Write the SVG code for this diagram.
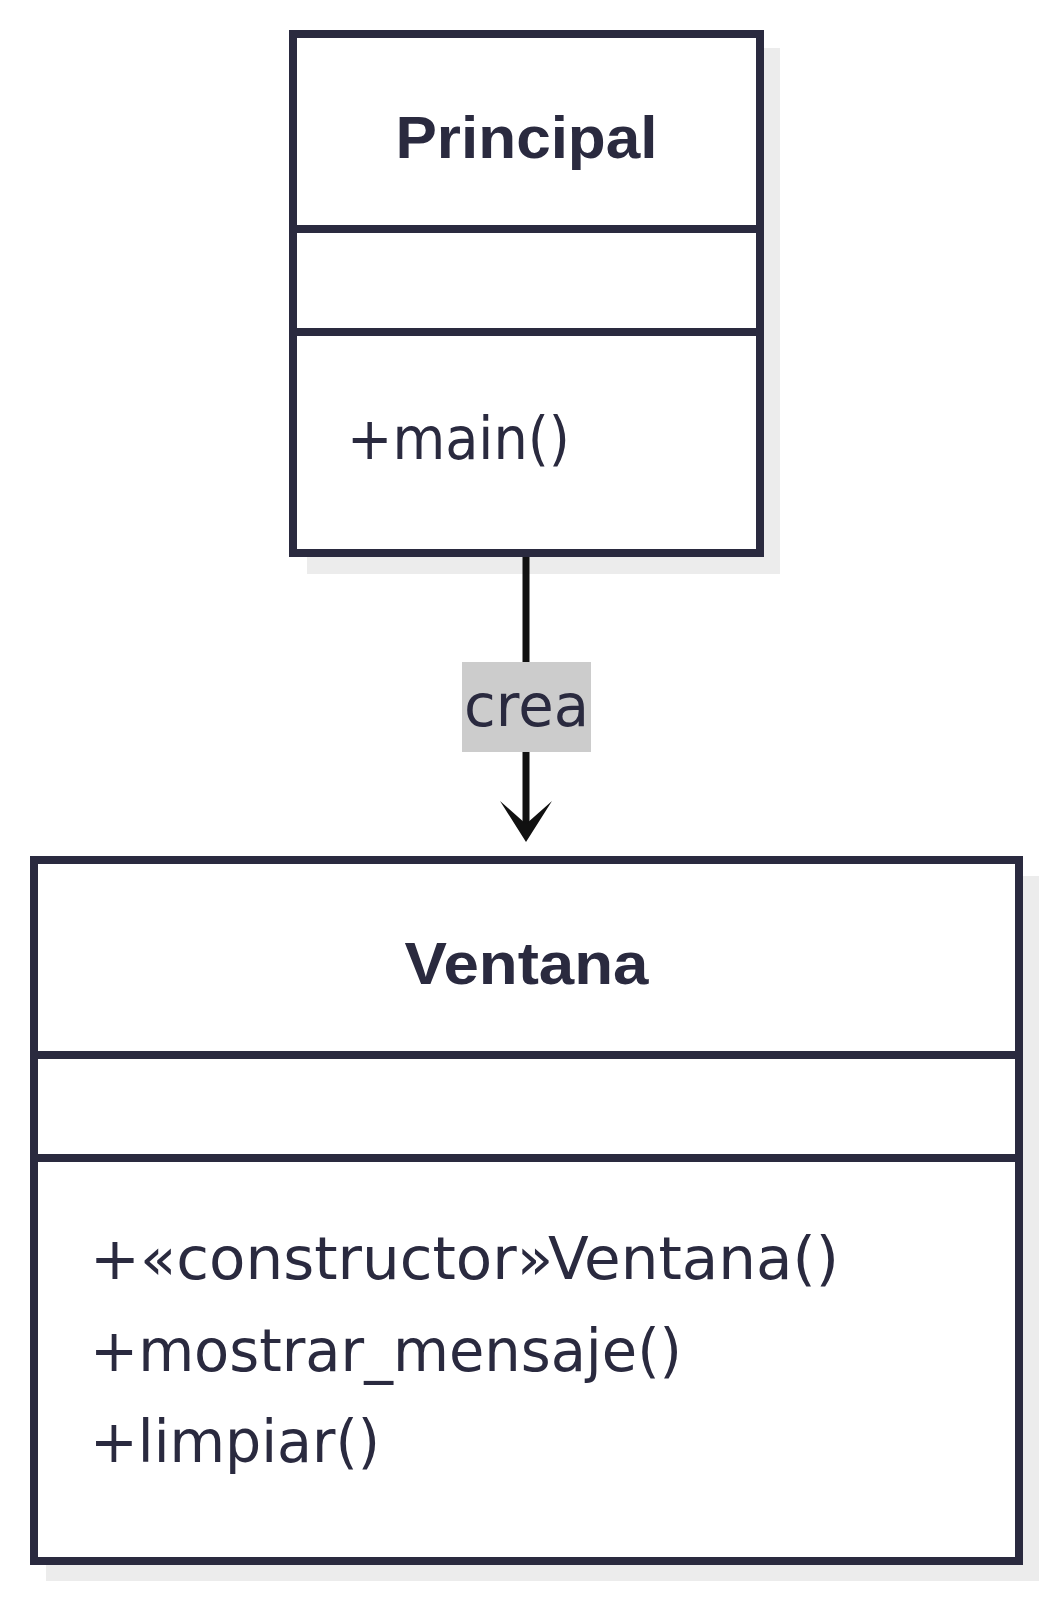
<svg xmlns="http://www.w3.org/2000/svg" width="1056" height="1600" viewBox="0 0 1056 1600">
<style>
.shadow{fill:#ececec;stroke:none}
.box{fill:#ffffff;stroke:#2a2a3f;stroke-width:8}
.div{stroke:#2a2a3f;stroke-width:8}
.title{font-family:"Liberation Sans",Arial,sans-serif;font-weight:bold;font-size:60px;fill:#2a2a3f;text-anchor:middle}
.member{font-family:"DejaVu Sans","Liberation Sans",sans-serif;font-size:58px;fill:#2a2a3f}
.label{font-family:"DejaVu Sans","Liberation Sans",sans-serif;font-size:58px;fill:#2a2a3f;text-anchor:middle}
.edge{stroke:#111111;stroke-width:7;fill:none}
</style>
<rect width="1056" height="1600" fill="#ffffff"/>
<g id="node-Principal">
<rect class="shadow" x="307" y="48" width="473" height="526"/>
<rect class="box" x="293" y="34" width="467" height="519"/>
<line class="div" x1="293" y1="229" x2="760" y2="229"/>
<line class="div" x1="293" y1="332" x2="760" y2="332"/>
<text class="title" x="526.5" y="158" textLength="262" lengthAdjust="spacingAndGlyphs">Principal</text>
<text class="member" x="347" y="459" textLength="223" lengthAdjust="spacingAndGlyphs">+main()</text>
</g>
<g id="node-Ventana">
<rect class="shadow" x="46" y="876" width="993" height="705"/>
<rect class="box" x="34" y="860" width="985" height="701"/>
<line class="div" x1="34" y1="1055" x2="1019" y2="1055"/>
<line class="div" x1="34" y1="1158" x2="1019" y2="1158"/>
<text class="title" x="526.5" y="984" textLength="244" lengthAdjust="spacingAndGlyphs">Ventana</text>
<text class="member" x="90" y="1279" textLength="749" lengthAdjust="spacingAndGlyphs">+«constructor»Ventana()</text>
<text class="member" x="90" y="1371" textLength="592" lengthAdjust="spacingAndGlyphs">+mostrar_mensaje()</text>
<text class="member" x="90" y="1462" textLength="290" lengthAdjust="spacingAndGlyphs">+limpiar()</text>
</g>
<g id="connectors">
<line class="edge" x1="526" y1="557" x2="526" y2="836"/>
<polygon points="500,801 526,842 552,801 526,824" fill="#111111"/>
<rect x="462" y="662" width="129" height="90" fill="#cccccc"/>
<text class="label" x="526.5" y="726" textLength="125" lengthAdjust="spacingAndGlyphs">crea</text>
</g>
</svg>
